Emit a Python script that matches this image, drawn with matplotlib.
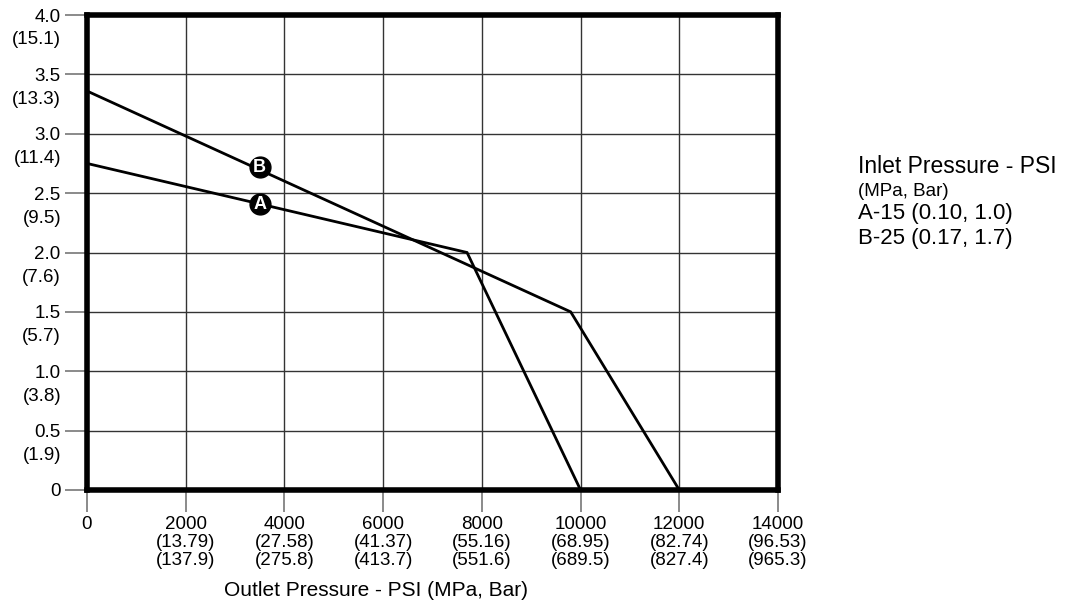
import matplotlib
matplotlib.use("Agg")
import matplotlib.pyplot as plt

plt.rcParams['font.family'] = ['Liberation Sans', 'DejaVu Sans']

# Data
line_a_x = [0, 7700, 10000]
line_a_y = [2.75, 2.0, 0.0]
line_b_x = [0, 9800, 12000]
line_b_y = [3.36, 1.5, 0.0]
marker_a = (3500, 2.41)
marker_b = (3500, 2.72)

x_ticks = [0, 2000, 4000, 6000, 8000, 10000, 12000, 14000]
x_labels = ["0", "2000\n(13.79)\n(137.9)", "4000\n(27.58)\n(275.8)", "6000\n(41.37)\n(413.7)",
            "8000\n(55.16)\n(551.6)", "10000\n(68.95)\n(689.5)", "12000\n(82.74)\n(827.4)",
            "14000\n(96.53)\n(965.3)"]
y_ticks = [0, 0.5, 1.0, 1.5, 2.0, 2.5, 3.0, 3.5, 4.0]
y_main = ["0", "0.5", "1.0", "1.5", "2.0", "2.5", "3.0", "3.5", "4.0"]
y_sub = ["", "(1.9)", "(3.8)", "(5.7)", "(7.6)", "(9.5)", "(11.4)", "(13.3)", "(15.1)"]

legend_title = "Inlet Pressure - PSI"
legend_sub = "(MPa, Bar)"
legend_items = ["A-15 (0.10, 1.0)", "B-25 (0.17, 1.7)"]
x_title = "Outlet Pressure - PSI (MPa, Bar)"

fig = plt.figure(figsize=(10.84, 6.12), dpi=100)
ax = fig.add_axes([87/1084, 122/612, 691/1084, 475/612])
ax.set_xlim(0, 14000)
ax.set_ylim(0, 4.0)

for xv in x_ticks[1:-1]:
    ax.axvline(xv, color='#333333', lw=1.0, zorder=1)
for yv in y_ticks[1:-1]:
    ax.axhline(yv, color='#333333', lw=1.0, zorder=1)

ax.plot(line_a_x, line_a_y, color='black', lw=2.0, zorder=3, solid_joinstyle='miter')
ax.plot(line_b_x, line_b_y, color='black', lw=2.0, zorder=3, solid_joinstyle='miter')

for (mx, my), lab in [(marker_a, 'A'), (marker_b, 'B')]:
    ax.plot([mx], [my], 'o', ms=15, color='black', zorder=4)
    ax.text(mx, my - 0.005, lab, color='white', ha='center', va='center', fontsize=13,
            fontweight='bold', zorder=5)

for s in ax.spines.values():
    s.set_linewidth(4)
    s.set_color('black')

ax.set_xticks(x_ticks)
ax.set_xticklabels(x_labels, fontsize=13.5, linespacing=1.05, va='top')
ax.set_yticks(y_ticks)
ax.set_yticklabels(y_main, fontsize=13.5)
ax.tick_params(axis='both', length=16, width=1.2, color='#777777', pad=3)
ax.tick_params(axis='x', pad=3)

for yv, sub in zip(y_ticks, y_sub):
    if sub:
        ax.annotate(sub, xy=(0, yv), xycoords=('axes fraction', 'data'),
                    xytext=(-26, -25), textcoords='offset pixels',
                    ha='right', va='center', fontsize=13.5)

fig.text(376/1084, 1 - 590/612, x_title, ha='center', va='center', fontsize=15)

fig.text(858/1084, 1 - 167/612, legend_title, ha='left', va='center', fontsize=16.5)
fig.text(858/1084, 1 - 191/612, legend_sub, ha='left', va='center', fontsize=13.5)
fig.text(858/1084, 1 - 214/612, legend_items[0], ha='left', va='center', fontsize=16)
fig.text(858/1084, 1 - 239/612, legend_items[1], ha='left', va='center', fontsize=16)

fig.savefig('out.png', dpi=100)
